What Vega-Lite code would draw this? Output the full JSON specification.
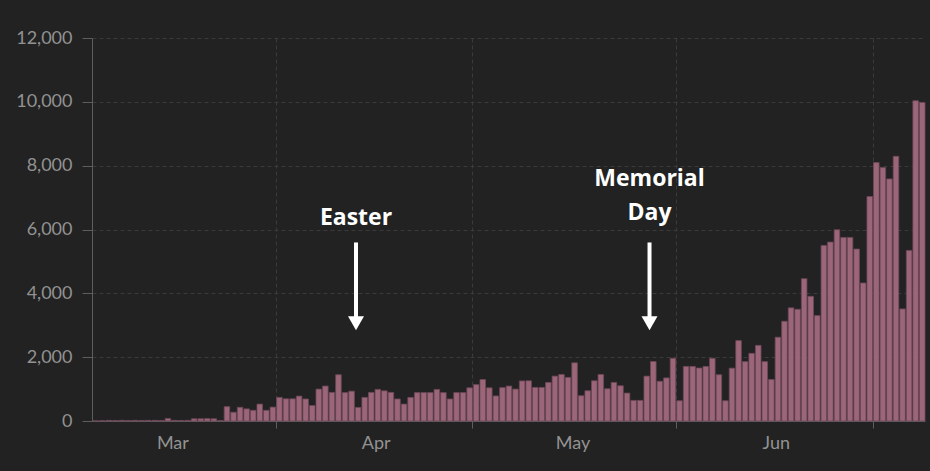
{
  "$schema": "https://vega.github.io/schema/vega-lite/v6.json",
  "width": 833,
  "height": 383,
  "autosize": {"type": "none"},
  "padding": {"left": 92, "top": 38, "right": 5, "bottom": 50},
  "background": "#222222",
  "config": {
    "view": {"stroke": null},
    "font": "Lato",
    "axis": {
      "labelFont": "Lato",
      "labelFontSize": 18,
      "labelColor": "#929292",
      "domainColor": "#5e5e5e",
      "tickColor": "#5e5e5e",
      "gridColor": "#3a3a3a",
      "gridDash": [4, 3],
      "title": null
    }
  },
  "datasets": {
    "cases": [
      {"d": "2020-03-04", "v": 5}, {"d": "2020-03-05", "v": 10}, {"d": "2020-03-06", "v": 20}, {"d": "2020-03-07", "v": 15},
      {"d": "2020-03-08", "v": 20}, {"d": "2020-03-09", "v": 15}, {"d": "2020-03-10", "v": 20}, {"d": "2020-03-11", "v": 15},
      {"d": "2020-03-12", "v": 20}, {"d": "2020-03-13", "v": 20}, {"d": "2020-03-14", "v": 15}, {"d": "2020-03-15", "v": 80},
      {"d": "2020-03-16", "v": 20}, {"d": "2020-03-17", "v": 15}, {"d": "2020-03-18", "v": 20}, {"d": "2020-03-19", "v": 70},
      {"d": "2020-03-20", "v": 70}, {"d": "2020-03-21", "v": 75}, {"d": "2020-03-22", "v": 70}, {"d": "2020-03-23", "v": 15},
      {"d": "2020-03-24", "v": 450}, {"d": "2020-03-25", "v": 275}, {"d": "2020-03-26", "v": 430}, {"d": "2020-03-27", "v": 380},
      {"d": "2020-03-28", "v": 335}, {"d": "2020-03-29", "v": 530}, {"d": "2020-03-30", "v": 335}, {"d": "2020-03-31", "v": 435},
      {"d": "2020-04-01", "v": 740}, {"d": "2020-04-02", "v": 695}, {"d": "2020-04-03", "v": 695}, {"d": "2020-04-04", "v": 780},
      {"d": "2020-04-05", "v": 690}, {"d": "2020-04-06", "v": 485}, {"d": "2020-04-07", "v": 1000}, {"d": "2020-04-08", "v": 1095},
      {"d": "2020-04-09", "v": 895}, {"d": "2020-04-10", "v": 1450}, {"d": "2020-04-11", "v": 890}, {"d": "2020-04-12", "v": 935},
      {"d": "2020-04-13", "v": 425}, {"d": "2020-04-14", "v": 740}, {"d": "2020-04-15", "v": 895}, {"d": "2020-04-16", "v": 990},
      {"d": "2020-04-17", "v": 945}, {"d": "2020-04-18", "v": 895}, {"d": "2020-04-19", "v": 690}, {"d": "2020-04-20", "v": 530},
      {"d": "2020-04-21", "v": 740}, {"d": "2020-04-22", "v": 890}, {"d": "2020-04-23", "v": 890}, {"d": "2020-04-24", "v": 890},
      {"d": "2020-04-25", "v": 990}, {"d": "2020-04-26", "v": 890}, {"d": "2020-04-27", "v": 690}, {"d": "2020-04-28", "v": 890},
      {"d": "2020-04-29", "v": 890}, {"d": "2020-04-30", "v": 1040},
      {"d": "2020-05-01", "v": 1140}, {"d": "2020-05-02", "v": 1300}, {"d": "2020-05-03", "v": 1040}, {"d": "2020-05-04", "v": 785},
      {"d": "2020-05-05", "v": 1045}, {"d": "2020-05-06", "v": 1095}, {"d": "2020-05-07", "v": 1000}, {"d": "2020-05-08", "v": 1255},
      {"d": "2020-05-09", "v": 1260}, {"d": "2020-05-10", "v": 1052}, {"d": "2020-05-11", "v": 1052}, {"d": "2020-05-12", "v": 1208},
      {"d": "2020-05-13", "v": 1406}, {"d": "2020-05-14", "v": 1458}, {"d": "2020-05-15", "v": 1365}, {"d": "2020-05-16", "v": 1823},
      {"d": "2020-05-17", "v": 792}, {"d": "2020-05-18", "v": 948}, {"d": "2020-05-19", "v": 1260}, {"d": "2020-05-20", "v": 1458},
      {"d": "2020-05-21", "v": 1010}, {"d": "2020-05-22", "v": 1208}, {"d": "2020-05-23", "v": 1104}, {"d": "2020-05-24", "v": 875},
      {"d": "2020-05-25", "v": 646}, {"d": "2020-05-26", "v": 646}, {"d": "2020-05-27", "v": 1406}, {"d": "2020-05-28", "v": 1865},
      {"d": "2020-05-29", "v": 1245}, {"d": "2020-05-30", "v": 1350}, {"d": "2020-05-31", "v": 1965},
      {"d": "2020-06-01", "v": 635}, {"d": "2020-06-02", "v": 1710}, {"d": "2020-06-03", "v": 1710}, {"d": "2020-06-04", "v": 1660},
      {"d": "2020-06-05", "v": 1710}, {"d": "2020-06-06", "v": 1965}, {"d": "2020-06-07", "v": 1450}, {"d": "2020-06-08", "v": 635},
      {"d": "2020-06-09", "v": 1655}, {"d": "2020-06-10", "v": 2520}, {"d": "2020-06-11", "v": 1860}, {"d": "2020-06-12", "v": 2120},
      {"d": "2020-06-13", "v": 2370}, {"d": "2020-06-14", "v": 1860}, {"d": "2020-06-15", "v": 1300}, {"d": "2020-06-16", "v": 2625},
      {"d": "2020-06-17", "v": 3125}, {"d": "2020-06-18", "v": 3545}, {"d": "2020-06-19", "v": 3500}, {"d": "2020-06-20", "v": 4460},
      {"d": "2020-06-21", "v": 3907}, {"d": "2020-06-22", "v": 3303}, {"d": "2020-06-23", "v": 5502}, {"d": "2020-06-24", "v": 5606},
      {"d": "2020-06-25", "v": 5992}, {"d": "2020-06-26", "v": 5752}, {"d": "2020-06-27", "v": 5752}, {"d": "2020-06-28", "v": 5387},
      {"d": "2020-06-29", "v": 4324}, {"d": "2020-06-30", "v": 7034},
      {"d": "2020-07-01", "v": 8096}, {"d": "2020-07-02", "v": 7940}, {"d": "2020-07-03", "v": 7586}, {"d": "2020-07-04", "v": 8294},
      {"d": "2020-07-05", "v": 3511}, {"d": "2020-07-06", "v": 5345}, {"d": "2020-07-07", "v": 10034}, {"d": "2020-07-08", "v": 9982}
    ],
    "notes": [
      {"label": "Easter", "at": "2020-04-13T06:00:00Z", "textY": 6375, "lineTop": 5594, "lineBottom": 3219, "head": 3062},
      {"label": "Memorial\nDay", "at": "2020-05-28T00:00:00Z", "textY": 7594, "lineTop": 5594, "lineBottom": 3219, "head": 3062}
    ]
  },
  "layer": [
    {
      "data": {"name": "cases"},
      "mark": {"type": "bar", "fill": "#9c6679", "stroke": "#6f4759", "strokeWidth": 0.8},
      "encoding": {
        "x": {
          "field": "d",
          "type": "temporal",
          "timeUnit": "utcyearmonthdate",
          "scale": {
            "type": "utc",
            "domain": [
              {"year": 2020, "month": 3, "date": 4, "utc": true},
              {"year": 2020, "month": 7, "date": 9, "utc": true}
            ]
          },
          "axis": {
            "orient": "bottom",
            "values": [
              {"year": 2020, "month": 4, "date": 1, "utc": true},
              {"year": 2020, "month": 5, "date": 1, "utc": true},
              {"year": 2020, "month": 6, "date": 1, "utc": true},
              {"year": 2020, "month": 7, "date": 1, "utc": true}
            ],
            "labels": false,
            "grid": true,
            "tickSize": 7,
            "domain": true
          }
        },
        "y": {
          "field": "v",
          "type": "quantitative",
          "scale": {"domain": [0, 12000]},
          "axis": {
            "orient": "left",
            "values": [0, 2000, 4000, 6000, 8000, 10000, 12000],
            "format": ",.0f",
            "tickSize": 10,
            "labelPadding": 10,
            "grid": true
          }
        }
      }
    },
    {
      "data": {"name": "notes"},
      "mark": {"type": "rule", "color": "white", "strokeWidth": 4},
      "encoding": {
        "x": {"field": "at", "type": "temporal", "axis": null},
        "y": {"field": "lineTop", "type": "quantitative", "axis": null},
        "y2": {"field": "lineBottom"}
      }
    },
    {
      "data": {"name": "notes"},
      "mark": {"type": "point", "shape": "triangle-down", "filled": true, "color": "white", "opacity": 1, "size": 256},
      "encoding": {
        "x": {"field": "at", "type": "temporal", "axis": null},
        "y": {"field": "head", "type": "quantitative", "axis": null}
      }
    },
    {
      "data": {"name": "notes"},
      "mark": {
        "type": "text",
        "font": "Open Sans",
        "fontWeight": "bold",
        "fontSize": 23,
        "color": "white",
        "align": "center",
        "baseline": "middle",
        "lineBreak": "\n",
        "lineHeight": 34
      },
      "encoding": {
        "x": {
          "field": "at",
          "type": "temporal",
          "axis": {
            "orient": "bottom",
            "values": [
              {"year": 2020, "month": 3, "date": 16, "hours": 6, "utc": true},
              {"year": 2020, "month": 4, "date": 16, "hours": 6, "utc": true},
              {"year": 2020, "month": 5, "date": 16, "hours": 6, "utc": true},
              {"year": 2020, "month": 6, "date": 16, "hours": 6, "utc": true}
            ],
            "format": "%b",
            "domain": false,
            "ticks": false,
            "grid": false,
            "labelPadding": 13
          }
        },
        "y": {"field": "textY", "type": "quantitative", "axis": null},
        "text": {"field": "label"}
      }
    }
  ],
  "resolve": {"axis": {"x": "independent", "y": "independent"}}
}
